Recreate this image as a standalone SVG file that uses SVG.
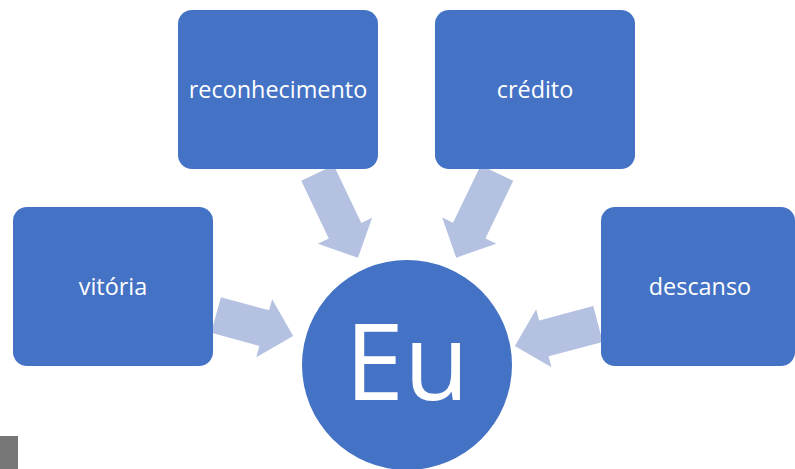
<svg xmlns="http://www.w3.org/2000/svg" width="795" height="469" viewBox="0 0 795 469">
<defs>
<style>
.box{fill:#4472C4;}
.arrow{fill:#B4C1E1;}
.lbl{fill:#FFFFFF;font-family:"Open Sans","Noto Sans",sans-serif;font-size:23.4px;text-anchor:middle;dominant-baseline:central;}
.big{fill:#FFFFFF;font-family:"Open Sans","Noto Sans",sans-serif;font-size:106px;text-anchor:middle;}
</style>
</defs>
<rect width="795" height="469" fill="#FFFFFF"/>
<g id="connectors">
<polygon class="arrow" transform="translate(216,315) rotate(15.3)" points="0,-18.5 50,-18.5 50,-30 80,0 50,30 50,18.5 0,18.5"/>
<polygon class="arrow" transform="translate(317.5,173) rotate(64.5)" points="0,-18 64,-18 64,-30 94,0 64,30 64,18 0,18"/>
<polygon class="arrow" transform="translate(497,173) rotate(115.75)" points="0,-18 64,-18 64,-30 94,0 64,30 64,18 0,18"/>
<polygon class="arrow" transform="translate(598,324) rotate(165.2)" points="0,-18.5 56,-18.5 56,-30 86,0 56,30 56,18.5 0,18.5"/>
</g>
<g id="node-vitoria">
<rect class="box" x="13" y="207" width="200" height="159" rx="14"/>
<text class="lbl" x="113" y="286">vitória</text>
</g>
<g id="node-reconhecimento">
<rect class="box" x="178" y="10" width="200" height="159" rx="14"/>
<text class="lbl" x="278" y="89">reconhecimento</text>
</g>
<g id="node-credito">
<rect class="box" x="435" y="10" width="200" height="159" rx="14"/>
<text class="lbl" x="535" y="89">crédito</text>
</g>
<g id="node-descanso">
<rect class="box" x="601" y="207" width="194" height="159" rx="14"/>
<text class="lbl" x="700" y="286">descanso</text>
</g>
<g id="node-eu">
<circle class="box" cx="407" cy="365" r="105"/>
<text class="big" x="407" y="400">Eu</text>
</g>
<rect id="gray-square" x="0" y="436" width="18" height="33" fill="#777777"/>
</svg>
